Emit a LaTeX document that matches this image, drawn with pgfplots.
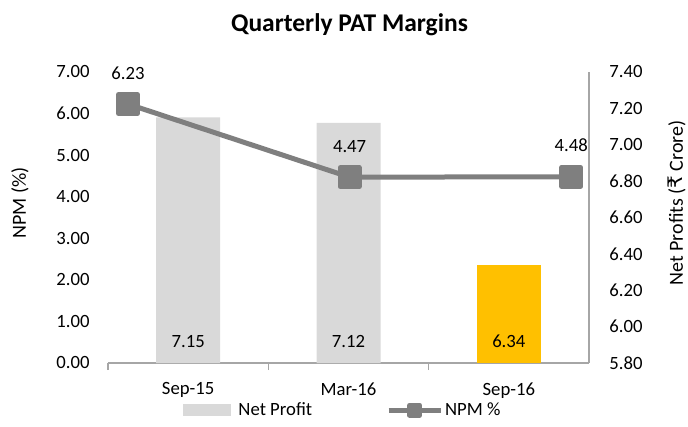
\documentclass[border=0pt]{standalone}
\usepackage{pgfplots}
\pgfplotsset{compat=1.18}
\usepackage{fontspec}
\setmainfont{Carlito}
\newfontfamily\rupeefont{DejaVu Sans}
\definecolor{barGray}{HTML}{D9D9D9}
\definecolor{gold}{HTML}{FFC000}
\definecolor{lineGray}{HTML}{7F7F7F}
\definecolor{axGray}{HTML}{A6A6A6}
\begin{document}
\fontsize{18.7}{22}\selectfont
\begin{tikzpicture}
\path[use as bounding box] (-108pt,-63pt) rectangle (580pt,363pt);
% ---- bars (right axis)
\begin{axis}[
  at={(0pt,0pt)}, anchor=south west,
  scale only axis, width=481pt, height=291pt,
  xmin=-0.5, xmax=2.5, ymin=5.8, ymax=7.4,
  axis x line*=bottom, axis y line*=right,
  axis line style={axGray, line width=1.3pt, -},
  xtick={0,1,2}, xticklabels={Sep-15,Mar-16,Sep-16},
  minor xtick={-0.5,0.5,1.5},
  major tick length=0pt, minor tick length=7pt,
  xtick align=outside,
  minor tick style={axGray, line width=1.3pt},
  xticklabel style={yshift=-13pt, text=black},
  ytick={5.8,6,6.2,6.4,6.6,6.8,7,7.2,7.4},
  yticklabel style={/pgf/number format/.cd, fixed, fixed zerofill, precision=2, /tikz/.cd, xshift=14pt, text=black},
  /pgf/number format/assume math mode=true,
  every axis y label/.style={at={(axis description cs:1.183,0.55)}, anchor=center, rotate=90, font=\fontsize{20}{24}\selectfont},
  ylabel={Net Profits ({\rupeefont ₹} Crore)},
  title={Quarterly PAT Margins},
  title style={at={(axis description cs:0.502,1.117)}, anchor=base, font=\fontsize{25.5}{30}\selectfont\bfseries},
  clip=true,
]
\addplot[ybar, bar width=64pt, fill=barGray, draw=none, bar shift=0pt] coordinates {(0,7.15) (1,7.12)};
\addplot[ybar, bar width=64pt, fill=gold, draw=none, bar shift=0pt] coordinates {(2,6.34)};
\addplot[draw=none, mark=none, point meta=explicit,
  nodes near coords={\pgfmathprintnumber[fixed,fixed zerofill,precision=2]{\pgfplotspointmeta}},
  every node near coord/.append style={anchor=base, yshift=16pt, text=black}]
  coordinates {(0,5.8) [7.15] (1,5.8) [7.12] (2,5.8) [6.34]};
\end{axis}
% ---- line (left axis)
\begin{axis}[
  at={(0pt,0pt)}, anchor=south west,
  scale only axis, width=481pt, height=291pt,
  xmin=-0.09, xmax=2.08, ymin=0, ymax=7,
  axis x line=none, axis y line*=left,
  y axis line style={draw=none},
  major tick length=0pt,
  ytick={0,1,2,3,4,5,6,7},
  yticklabel style={/pgf/number format/.cd, fixed, fixed zerofill, precision=2, /tikz/.cd, xshift=-12pt, text=black},
  /pgf/number format/assume math mode=true,
  every axis y label/.style={at={(axis description cs:-0.183,0.55)}, anchor=center, rotate=90, font=\fontsize{20}{24}\selectfont},
  ylabel={NPM (\%)},
  clip=false,
  legend style={at={(axis description cs:0.4885,-0.162)}, anchor=center, draw=none, fill=none,
    /tikz/every even column/.append style={column sep=72pt}},
  legend columns=2,
]
\addlegendimage{legend image code/.code={\fill[barGray, draw=none] (0pt,-6pt) rectangle (48pt,6pt); \path[draw=none, fill=none] (0pt,0pt) -- (53pt,0pt);}}
\addlegendentry{Net Profit}
\addplot[lineGray, line width=5pt, line join=round, mark=square*, mark size=9.5pt,
  mark options={draw=none, fill=lineGray},
  point meta=explicit,
  nodes near coords={\pgfmathprintnumber[fixed,fixed zerofill,precision=2]{\pgfplotspointmeta}},
  every node near coord/.append style={anchor=base, yshift=25pt, text=black},
  legend image code/.code={\draw[lineGray, line width=5pt] (0pt,0pt) -- (52pt,0pt); \fill[lineGray] (21pt,-5pt) rectangle (31pt,5pt);}]
  coordinates {(0,6.23) [6.23] (1,4.47) [4.47] (2,4.48) [4.48]};
\addlegendentry{NPM \%}
\end{axis}
\end{tikzpicture}
\end{document}
